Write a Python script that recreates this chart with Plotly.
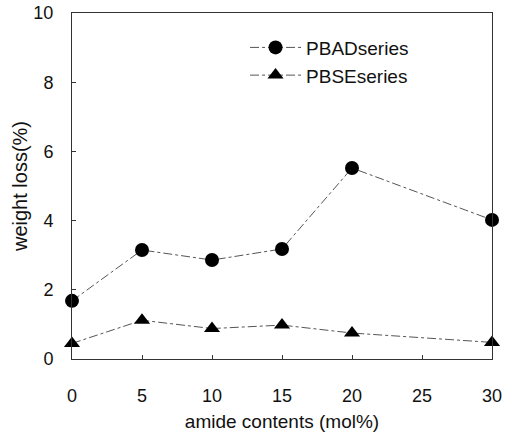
import plotly.graph_objects as go

x_vals = [0, 5, 10, 15, 20, 30]
pbad = [1.68, 3.15, 2.86, 3.18, 5.52, 4.02]
pbse = [0.45, 1.12, 0.88, 0.98, 0.75, 0.48]
x_ticks = [0, 5, 10, 15, 20, 25, 30]
y_ticks = [0, 2, 4, 6, 8, 10]

font = "Liberation Sans, Arial, sans-serif"
fig = go.Figure()
fig.add_trace(go.Scatter(
    x=x_vals, y=pbad, name="PBADseries", mode="lines+markers",
    line=dict(color="#555", width=1, dash="dashdot"),
    marker=dict(symbol="circle", size=14, color="black"),
    cliponaxis=False,
))
fig.add_trace(go.Scatter(
    x=x_vals, y=pbse, name="PBSEseries", mode="lines+markers",
    line=dict(color="#555", width=1, dash="dashdot"),
    marker=dict(symbol="triangle-up", size=14, color="black"),
    cliponaxis=False,
))

axis_common = dict(
    showline=True, linecolor="#333", linewidth=1, mirror=True,
    ticks="inside", ticklen=4, tickcolor="#333", showgrid=False,
    zeroline=False, automargin=False,
    tickfont=dict(family=font, size=18, color="#111"),
)
fig.update_xaxes(range=[0, 30], tickvals=x_ticks, ticklabelstandoff=20,
                 title=dict(text="amide contents (mol%)", standoff=18,
                            font=dict(family=font, size=19, color="#111")),
                 **axis_common)
fig.update_yaxes(range=[0, 10], tickvals=y_ticks, ticklabelstandoff=14,
                 title=dict(text="weight loss(%)", standoff=0,
                            font=dict(family=font, size=20, color="#111")),
                 **axis_common)
fig.update_layout(
    width=505, height=432,
    margin=dict(l=72, r=13, t=13, b=73),
    paper_bgcolor="white", plot_bgcolor="white",
    showlegend=True,
    legend=dict(x=0.412, y=0.955, xanchor="left", yanchor="top",
                bgcolor="rgba(0,0,0,0)", font=dict(family=font, size=19, color="#111"),
                tracegroupgap=0, itemwidth=51),
)
fig.write_html("out.html")
